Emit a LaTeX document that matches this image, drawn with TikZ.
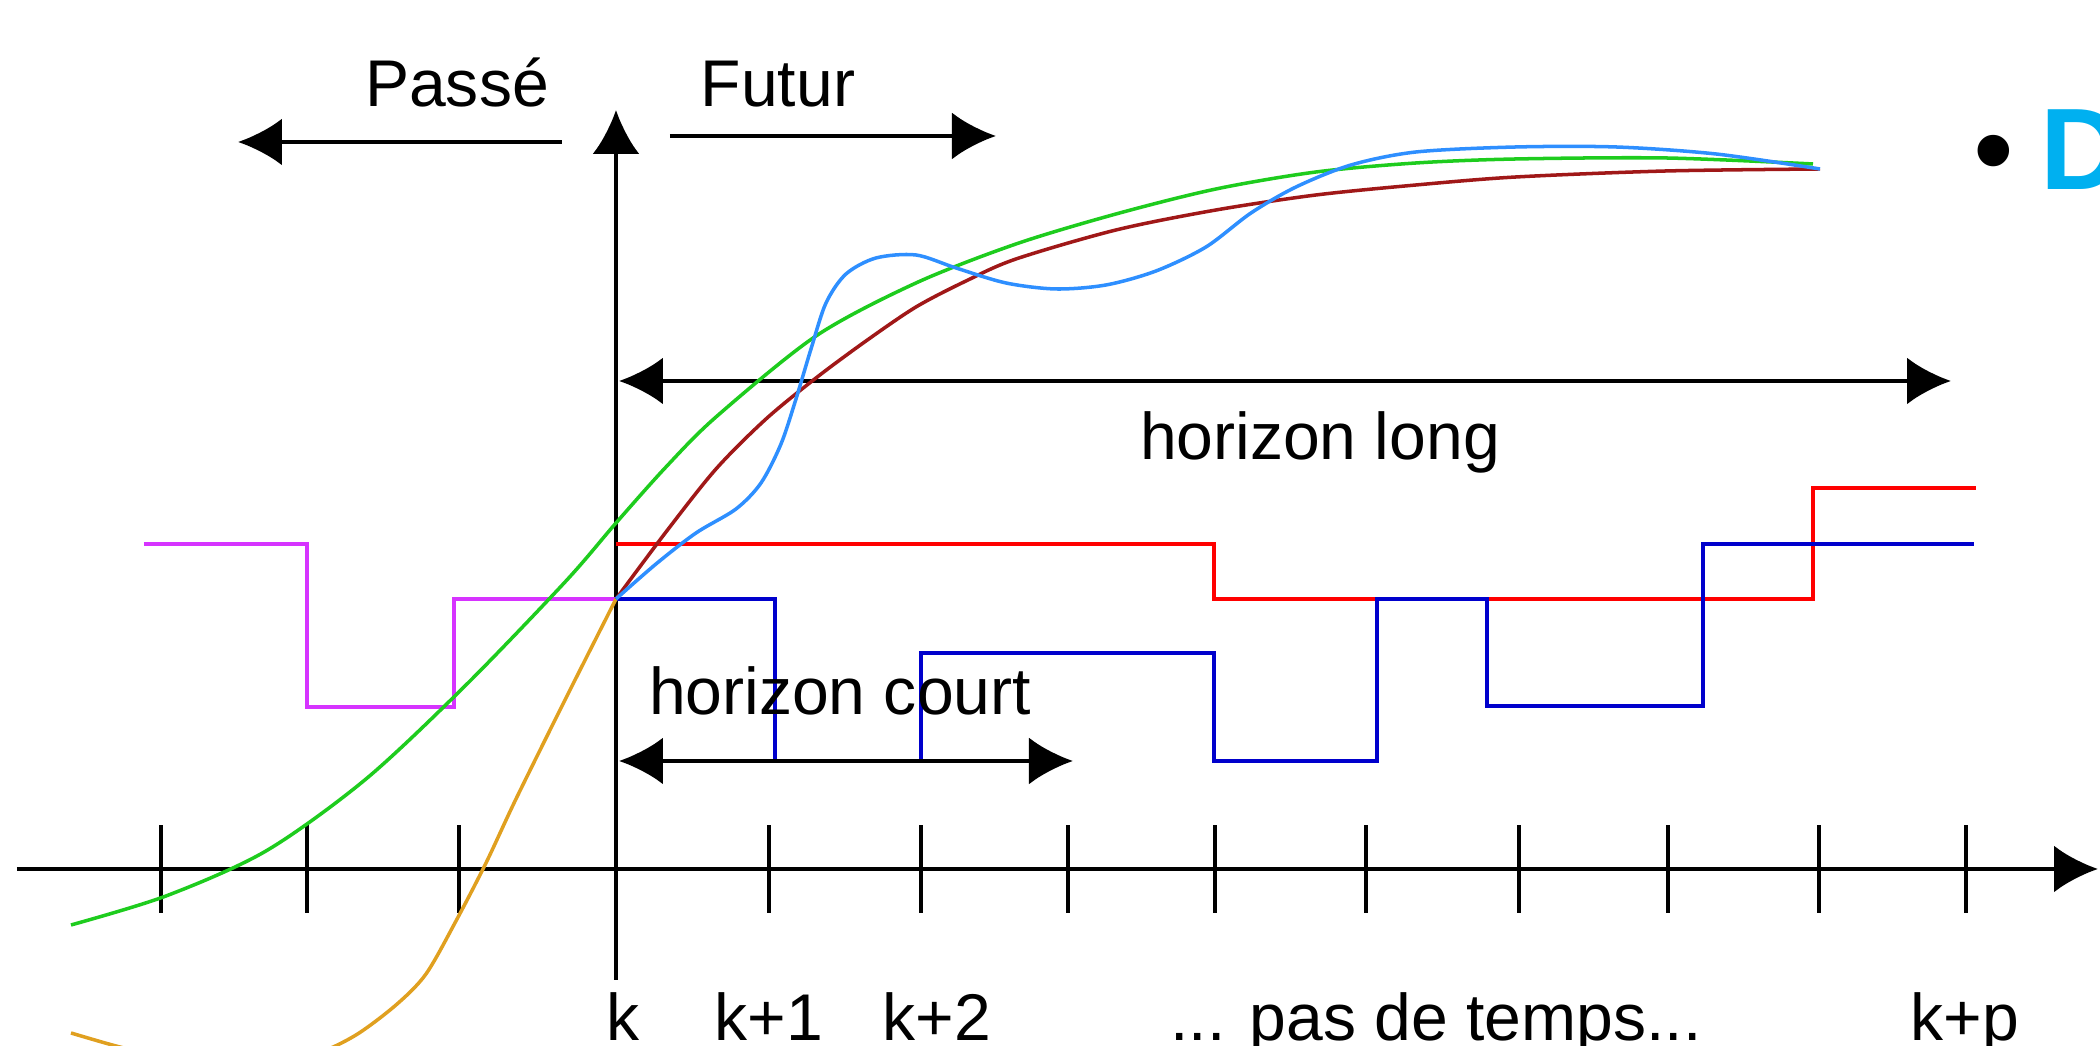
\documentclass[tikz,border=0pt]{standalone}
\usepackage{fontspec}
\setmainfont{Liberation Sans}
\usetikzlibrary{arrows.meta}
\definecolor{mpcPast}{HTML}{D633FF}
\definecolor{mpcCmd}{HTML}{0000CC}
\definecolor{mpcRef}{HTML}{FF0000}
\definecolor{mpcGold}{HTML}{E0A020}
\definecolor{mpcGreen}{HTML}{1ECC1E}
\definecolor{mpcBrown}{HTML}{A01818}
\definecolor{mpcSky}{HTML}{2E8FFF}
\definecolor{mpcTitle}{HTML}{00B0F0}

\begin{document}
\begin{tikzpicture}[
  lbl/.style={font=\fontsize{18.8}{22}\selectfont,inner sep=0pt,anchor=base},
  axisline/.style={line width=1.2pt},
  onearr/.style={line width=1.3pt,-{Latex[length=4.4mm,width=4.7mm]}},
  twoarr/.style={line width=1.3pt,{Latex[length=4.4mm,width=4.7mm]}-{Latex[length=4.4mm,width=4.7mm]}},
  stair/.style={line width=1.2pt},
  traj/.style={line width=1pt}
]
  \useasboundingbox (-6.16,-1.77) rectangle (14.84,8.69);

  \coordinate (tLeft) at (-5.99,0);
  \coordinate (tRight) at (14.82,0);
  \coordinate (yLow) at (0,-1.11);
  \coordinate (yTop) at (0,7.59);
  \draw[onearr] (tLeft) -- (tRight);
  \draw[onearr] (yLow) -- (yTop);
  \foreach \tx in {-4.55,-3.09,-1.57,1.53,3.05,4.52,5.99,7.50,9.03,10.52,12.03,13.50}
    \draw[axisline] (\tx,-0.44) -- (\tx,0.44);

  \coordinate (pastA) at (-0.54,7.27);
  \coordinate (pastB) at (-3.78,7.27);
  \coordinate (futA) at (0.54,7.33);
  \coordinate (futB) at (3.80,7.33);
  \draw[onearr] (pastA) -- (pastB);
  \draw[onearr] (futA) -- (futB);
  \node[lbl] (passe) at (-1.59,7.62) {Passé};
  \node[lbl] (futur) at (1.62,7.62) {Futur};

  \coordinate (longA) at (0.03,4.88);
  \coordinate (longB) at (13.35,4.88);
  \draw[twoarr] (longA) -- (longB);
  \node[lbl] (hlong) at (7.04,4.09) {horizon long};

  \draw[stair,mpcPast] (-4.72,3.25) -- (-3.09,3.25) -- (-3.09,1.62) -- (-1.62,1.62)
    -- (-1.62,2.70) -- (0,2.70);
  \draw[stair,mpcRef] (0,3.25) -- (5.98,3.25) -- (5.98,2.70) -- (11.97,2.70)
    -- (11.97,3.81) -- (13.60,3.81);
  \draw[stair,mpcCmd] (0,2.70) -- (1.59,2.70) -- (1.59,1.08) -- (3.05,1.08) -- (3.05,2.16)
    -- (5.98,2.16) -- (5.98,1.08) -- (7.61,1.08) -- (7.61,2.70) -- (8.71,2.70)
    -- (8.71,1.63) -- (10.87,1.63) -- (10.87,3.25) -- (13.58,3.25);

  \coordinate (courtA) at (0.03,1.08);
  \coordinate (courtB) at (4.57,1.08);
  \draw[twoarr] (courtA) -- (courtB);
  \node[lbl] (hcourt) at (2.24,1.54) {horizon court};

  \draw[traj,mpcGold] plot[smooth] coordinates {(-5.45,-1.64) (-5.0,-1.77) (-4.5,-1.89)
    (-4.0,-1.96) (-3.5,-1.96) (-3.0,-1.85) (-2.6,-1.66) (-2.2,-1.36) (-1.9,-1.05)
    (-1.6,-0.52) (-1.3,0.06) (-1.0,0.70) (-0.5,1.71) (0,2.70)};
  \draw[traj,mpcGreen] plot[smooth] coordinates {(-5.45,-0.56) (-4.5,-0.27) (-3.5,0.18)
    (-2.5,0.90) (-1.5,1.84) (-0.5,2.88) (0,3.46) (0.5,4.02) (1.0,4.52) (2.0,5.33)
    (3.0,5.86) (4.0,6.25) (5.0,6.55) (6.0,6.80) (7.0,6.97) (8.0,7.06) (9.0,7.10)
    (10.5,7.11) (11.97,7.05)};
  \draw[traj,mpcBrown] plot[smooth] coordinates {(0,2.70) (0.5,3.37) (1.0,4.00) (1.5,4.50)
    (2.0,4.91) (2.5,5.28) (3.0,5.62) (3.5,5.88) (4.0,6.10) (5.0,6.39) (6.0,6.59)
    (7.0,6.74) (8.0,6.84) (9.0,6.92) (10.5,6.98) (12.04,7.00)};
  \draw[traj,mpcSky] plot[smooth] coordinates {(0,2.70) (0.4,3.05) (0.8,3.36) (1.2,3.60)
    (1.45,3.86) (1.65,4.25) (1.8,4.70) (1.95,5.20) (2.1,5.66) (2.3,5.95) (2.6,6.11)
    (3.0,6.14) (3.4,6.01) (3.9,5.86) (4.4,5.80) (4.9,5.84) (5.4,5.98) (5.9,6.22)
    (6.35,6.56) (6.8,6.82) (7.35,7.04) (8.0,7.17) (9.0,7.22) (10.0,7.22) (11.0,7.15)
    (12.04,7.00)};

  \node[lbl] (lk) at (0.07,-1.72) {k};
  \node[lbl] (lk1) at (1.53,-1.72) {k+1};
  \node[lbl] (lk2) at (3.21,-1.72) {k+2};
  \node[lbl] (lsteps) at (8.20,-1.72) {... pas de temps...};
  \node[lbl] (lkp) at (13.49,-1.72) {k+p};

  \node[inner sep=0pt,anchor=base,font=\fontsize{33}{38}\selectfont] (ttlDot) at (13.78,6.79) {\textbullet};
  \node[inner sep=0pt,anchor=base west,font=\fontsize{33}{38}\selectfont\bfseries,text=mpcTitle] (ttlD) at (14.235,6.79) {D};
\end{tikzpicture}
\end{document}
